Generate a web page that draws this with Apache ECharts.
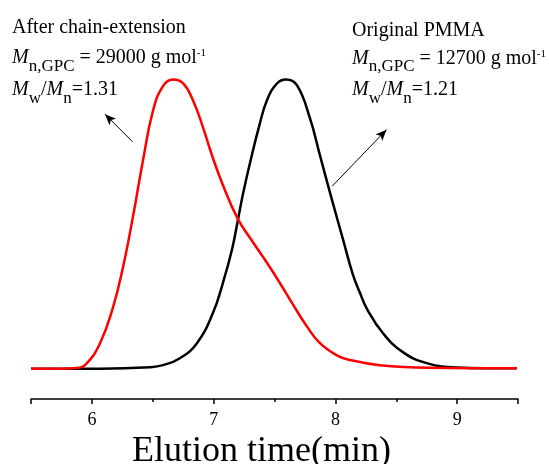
<!DOCTYPE html>
<html>
  <head>
    <meta charset="utf-8">
    <title>GPC traces</title>
    <style>
      html, body { margin: 0; padding: 0; background: #fff; }
      #chart { width: 549px; height: 464px; }
    </style>
  </head>
  <body>
    <div id="chart"></div>
    <script src="https://cdn.jsdelivr.net/npm/echarts@6/dist/echarts.min.js"></script>
    <script>
      // Elution time (min) and normalised detector signal
      var originalTime = [5.5, 6.067, 6.477, 6.584, 6.723, 6.863, 6.994, 7.076, 7.15, 7.2, 7.241,
        7.314, 7.372, 7.438, 7.52, 7.594, 7.684, 7.791, 7.873, 7.971, 8.062, 8.144, 8.201,
        8.259, 8.39, 8.554, 8.751, 8.998, 9.49];
      var originalSignal = [0, 0, 0.005, 0.012, 0.036, 0.088, 0.192, 0.296, 0.41, 0.515, 0.604,
        0.738, 0.835, 0.928, 0.986, 1.0, 0.98, 0.866, 0.738, 0.585, 0.448, 0.325, 0.263,
        0.207, 0.123, 0.057, 0.019, 0.004, 0.001];

      var extendedTime = [5.5, 5.738, 5.869, 5.952, 6.067, 6.174, 6.256, 6.337, 6.419, 6.501,
        6.584, 6.666, 6.748, 6.83, 6.912, 6.986, 7.076, 7.2, 7.323, 7.438, 7.544, 7.651,
        7.766, 7.873, 8.012, 8.119, 8.365, 8.776, 9.49];
      var extendedSignal = [0, 0, 0.002, 0.016, 0.088, 0.213, 0.351, 0.524, 0.718, 0.89,
        0.977, 1.0, 0.987, 0.928, 0.835, 0.738, 0.635, 0.517, 0.437, 0.366, 0.296, 0.222,
        0.146, 0.088, 0.046, 0.03, 0.012, 0.003, 0.001];

      // annotation arrows: [tail, head] in data coordinates
      var arrowExtended = [[6.335, 0.784], [6.108, 0.88]];
      var arrowOriginal = [[7.974, 0.631], [8.42, 0.826]];

      function pairs(xs, ys) {
        return xs.map(function (x, i) { return [x, ys[i]]; });
      }

      var serif = 'Liberation Serif';
      var rich = {
        m: { fontFamily: serif, fontSize: 20, fontStyle: 'italic', lineHeight: 24 },
        t: { fontFamily: serif, fontSize: 20, lineHeight: 24 },
        s: { fontFamily: serif, fontSize: 17, lineHeight: 24, padding: [17, 0, 0, 0] },
        p: { fontFamily: serif, fontSize: 11, lineHeight: 24, padding: [0, 0, 9, 0] }
      };

      function label(x, y, text) {
        return {
          type: 'text', x: x, y: y, silent: true,
          style: { text: text, rich: rich, fill: '#000', align: 'left', verticalAlign: 'middle',
            font: '20px "Liberation Serif"' }
        };
      }

      var chart = echarts.init(document.getElementById('chart'));
      chart.setOption({
        animation: false,
        backgroundColor: '#fff',
        grid: { left: 31, right: 31, top: 50.5, bottom: 65, outerBoundsMode: 'none' },
        xAxis: {
          type: 'value',
          min: 5.5,
          max: 9.5,
          name: 'Elution time(min)',
          nameLocation: 'middle',
          nameGap: 32,
          nameTextStyle: { fontFamily: serif, fontSize: 36, color: '#000', padding: [0, 26, 0, 0] },
          axisLine: { onZero: false, lineStyle: { color: '#000', width: 1.5 } },
          axisTick: { length: 5, lineStyle: { color: '#000', width: 1.5 } },
          minorTick: { show: true, splitNumber: 2, length: 3, lineStyle: { color: '#000', width: 1.5 } },
          axisLabel: { showMinLabel: false, showMaxLabel: false, margin: 12,
            fontFamily: serif, fontSize: 18, color: '#000' },
          splitLine: { show: false }
        },
        yAxis: { type: 'value', min: -0.105, max: 1.1, show: false },
        series: [
          {
            name: 'Original PMMA',
            type: 'line',
            data: pairs(originalTime, originalSignal),
            showSymbol: false,
            smooth: 0.45,
            lineStyle: { color: '#000', width: 2.5 },
            markLine: {
              silent: true,
              symbol: ['none', 'arrow'],
              symbolSize: [7, 11],
              label: { show: false },
              lineStyle: { color: '#000', width: 1, type: 'solid' },
              data: [
                [{ coord: arrowExtended[0] }, { coord: arrowExtended[1] }],
                [{ coord: arrowOriginal[0] }, { coord: arrowOriginal[1] }]
              ]
            }
          },
          {
            name: 'After chain-extension',
            type: 'line',
            data: pairs(extendedTime, extendedSignal),
            showSymbol: false,
            smooth: 0.45,
            lineStyle: { color: '#ff0000', width: 2.5 }
          }
        ],
        graphic: [
          label(12, 28, '{t|After chain-extension}'),
          label(12, 58, '{m|M}{s|n,GPC}{t| = 29000 g mol}{p|-1}'),
          label(12, 90, '{m|M}{s|w}{t|/}{m|M}{s|n}{t|=1.31}'),
          label(352, 31, '{t|Original PMMA}'),
          label(352, 58.5, '{m|M}{s|n,GPC}{t| = 12700 g mol}{p|-1}'),
          label(352, 90, '{m|M}{s|w}{t|/}{m|M}{s|n}{t|=1.21}')
        ]
      });
    </script>
  </body>
</html>
